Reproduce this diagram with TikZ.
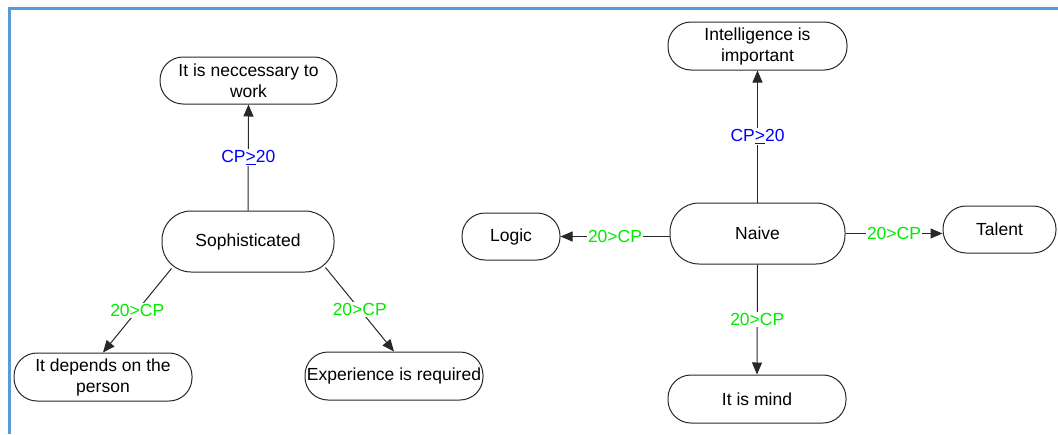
\documentclass[tikz,border=0pt]{standalone}
\usepackage{fontspec}
\setmainfont{Liberation Sans}
\usetikzlibrary{arrows.meta,calc}
\definecolor{frameblue}{RGB}{91,155,213}
\definecolor{lblgreen}{RGB}{0,235,0}
\definecolor{lblblue}{RGB}{0,0,255}
\definecolor{edgegray}{RGB}{40,40,40}
\begin{document}
\begin{tikzpicture}[x=1pt,y=-1pt,
  box/.style={draw=edgegray, line width=1pt, rounded corners=23pt, inner sep=0pt, align=center,
    font=\fontsize{17.5}{21}\selectfont},
  bigbox/.style={box, rounded corners=29pt},
  conn/.style={draw=edgegray, line width=1pt, -{Triangle[length=12pt,width=10pt]}},
  lbl/.style={fill=white, inner sep=1pt, font=\fontsize{17.5}{21}\selectfont},
  lg/.style={lbl, text=lblgreen},
  lb/.style={lbl, text=lblblue}]
\useasboundingbox (0,0) rectangle (1058,434);
\fill[white] (0,0) rectangle (1058,434);
\draw[frameblue, line width=3pt] (9,434) -- (9,8.5) -- (1058,8.5);

% left cluster
\node[box, minimum width=177pt, minimum height=47pt] (nec) at (248.5,80.5) {It is neccessary to\\work};
\node[bigbox, minimum width=172pt, minimum height=61pt] (soph) at (248,241.5) {Sophisticated};
\node[box, minimum width=178pt, minimum height=48pt] (dep) at (103,377) {It depends on the\\person};
\node[box, minimum width=178pt, minimum height=48pt] (exp) at (394,376) {Experience is required};

% right cluster
\node[box, minimum width=179pt, minimum height=48pt] (intel) at (757.5,46) {Intelligence is\\important};
\node[bigbox, minimum width=175pt, minimum height=61pt] (naive) at (757.5,233.5) {Naive};
\node[box, minimum width=98pt, minimum height=47pt] (logic) at (511,236.5) {Logic};
\node[box, minimum width=113pt, minimum height=47pt] (talent) at (999.5,229.5) {Talent};
\node[box, minimum width=178pt, minimum height=48pt] (mind) at (757,399) {It is mind};

% connectors
\draw[conn] (soph.north) -- node[lb]{CP\underline{>}20} (nec.south);
\draw[conn] ($(soph.south west)+(10,-4)$) -- node[lg]{20>CP} (dep.north);
\draw[conn] ($(soph.south east)+(-9,-5)$) -- node[lg]{20>CP} (exp.north);

\draw[conn] (naive.north) -- node[lb]{CP\underline{>}20} (intel.south);
\draw[conn] (naive.west |- logic.east) -- node[lg]{20>CP} (logic.east);
\draw[conn] (naive.east) -- node[lg]{20>CP} (naive.east -| talent.west);
\draw[conn] (naive.south) -- node[lg]{20>CP} (mind.north);
\end{tikzpicture}
\end{document}
